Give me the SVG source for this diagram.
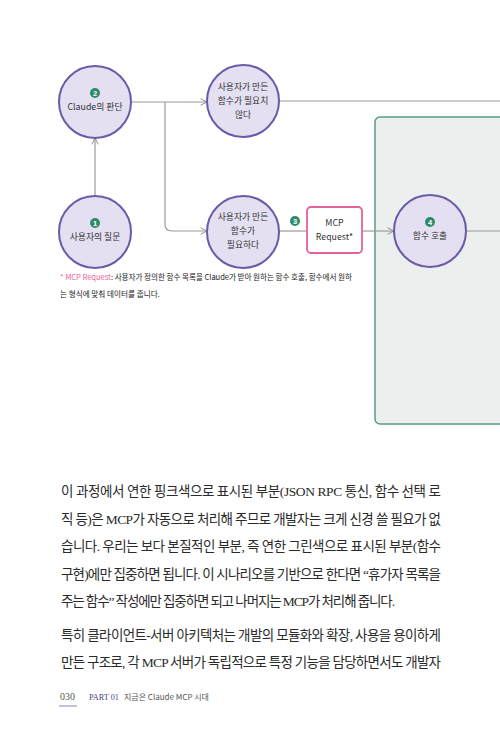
<svg xmlns="http://www.w3.org/2000/svg" width="500" height="740" viewBox="0 0 500 740">
<defs>
<style>
.node{fill:#e4e0f2;stroke:#6a5aa8;stroke-width:2}
.lbl{font-family:"Noto Sans CJK KR","Noto Sans",sans-serif;font-size:8.8px;fill:#333;text-anchor:middle}
.badge{fill:#2e8b6a}
.bn{font-family:"Liberation Sans",sans-serif;font-size:7.5px;font-weight:bold;fill:#fff;text-anchor:middle}
.conn{fill:none;stroke:#9a9a9a;stroke-width:1.2}
.body{font-family:"Liberation Serif","Noto Sans CJK KR",serif;font-size:13.5px;fill:#2a2a2a}
.note{font-family:"Noto Sans CJK KR","Noto Sans",sans-serif;font-size:7.6px;fill:#222}
</style>
<marker id="arr" viewBox="0 0 10 10" refX="9" refY="5" markerWidth="8" markerHeight="8" orient="auto" markerUnits="userSpaceOnUse">
<path d="M1,1 L9,5 L1,9" fill="none" stroke="#8a8a8a" stroke-width="1.2"/>
</marker>
</defs>
<rect width="500" height="740" fill="#fff"/>

<g id="server-area">
<rect x="375" y="117" width="140" height="307" rx="5" fill="#ebf0ee" stroke="#5a9a85" stroke-width="1.5"/>
</g>

<g id="connectors">
<path class="conn" d="M132,102 H207" marker-end="url(#arr)"/>
<path class="conn" d="M165,102 V224 Q165,231 172,231 H207" marker-end="url(#arr)"/>
<path class="conn" d="M95,196 V138" marker-end="url(#arr)"/>
<path class="conn" d="M280,101 H500"/>
<path class="conn" d="M279,231 H307"/>
<path class="conn" d="M362,231 H394" marker-end="url(#arr)"/>
<path class="conn" d="M467,231 H500"/>
</g>

<g id="n2">
<circle class="node" cx="95" cy="102" r="36"/>
<circle class="badge" cx="95" cy="93" r="5"/><text class="bn" x="95" y="95.7">2</text>
<text class="lbl" x="95" y="110">Claude의 판단</text>
</g>

<g id="n-not-needed">
<circle class="node" cx="243" cy="101" r="36"/>
<text class="lbl" x="243" y="90">사용자가 만든</text>
<text class="lbl" x="243" y="104">함수가 필요치</text>
<text class="lbl" x="243" y="118">않다</text>
</g>

<g id="n1">
<circle class="node" cx="95" cy="232" r="36"/>
<circle class="badge" cx="95" cy="223" r="5"/><text class="bn" x="95" y="225.7">1</text>
<text class="lbl" x="95" y="240">사용자의 질문</text>
</g>

<g id="n-needed">
<circle class="node" cx="243" cy="232" r="36"/>
<text class="lbl" x="243" y="220">사용자가 만든</text>
<text class="lbl" x="243" y="234">함수가</text>
<text class="lbl" x="243" y="248">필요하다</text>
</g>

<g id="n3">
<circle class="badge" cx="295" cy="221" r="5"/><text class="bn" x="295" y="223.7">3</text>
<rect x="307" y="207" width="55" height="46" rx="4" fill="#fff" stroke="#e8609a" stroke-width="1.8"/>
<text class="lbl" x="334.5" y="226">MCP</text>
<text class="lbl" x="334.5" y="240">Request*</text>
</g>

<g id="n4">
<circle class="node" cx="430" cy="231" r="36"/>
<circle class="badge" cx="430" cy="222" r="5"/><text class="bn" x="430" y="224.7">4</text>
<text class="lbl" x="430" y="239">함수 호출</text>
</g>

<g id="footnote">
<text class="note" x="60" y="280" textLength="292" lengthAdjust="spacing"><tspan fill="#e8609a">* MCP Request</tspan>: 사용자가 정의한 함수 목록을 Claude가 받아 원하는 함수 호출, 함수에서 원하</text>
<text class="note" x="60" y="297">는 형식에 맞춰 데이터를 줍니다.</text>
</g>

<g id="body">
<text class="body" x="61" y="496" textLength="380" lengthAdjust="spacing">이 과정에서 연한 핑크색으로 표시된 부분(JSON RPC 통신, 함수 선택 로</text>
<text class="body" x="61" y="524" textLength="380" lengthAdjust="spacing">직 등)은 MCP가 자동으로 처리해 주므로 개발자는 크게 신경 쓸 필요가 없</text>
<text class="body" x="61" y="551" textLength="380" lengthAdjust="spacing">습니다. 우리는 보다 본질적인 부분, 즉 연한 그린색으로 표시된 부분(함수</text>
<text class="body" x="61" y="579" textLength="380" lengthAdjust="spacing">구현)에만 집중하면 됩니다. 이 시나리오를 기반으로 한다면 “휴가자 목록을</text>
<text class="body" x="61" y="606" textLength="334" lengthAdjust="spacing">주는 함수” 작성에만 집중하면 되고 나머지는 MCP가 처리해 줍니다.</text>
<text class="body" x="61" y="640" textLength="380" lengthAdjust="spacing">특히 클라이언트-서버 아키텍처는 개발의 모듈화와 확장, 사용을 용이하게</text>
<text class="body" x="61" y="667" textLength="380" lengthAdjust="spacing">만든 구조로, 각 MCP 서버가 독립적으로 특정 기능을 담당하면서도 개발자</text>
</g>

<g id="footer">
<text x="60" y="700" font-family="Liberation Serif,serif" font-size="10" fill="#555">030</text>
<line x1="59" y1="706" x2="77" y2="706" stroke="#b3aad6" stroke-width="1.5"/>
<text x="89" y="700" font-family="Liberation Serif,serif" font-size="9" fill="#4a3f8a" textLength="30" lengthAdjust="spacingAndGlyphs">PART 01</text>
<text x="124" y="700" font-family="'Noto Sans CJK KR',sans-serif" font-size="8" fill="#555">지금은 Claude MCP 시대</text>
</g>
</svg>
